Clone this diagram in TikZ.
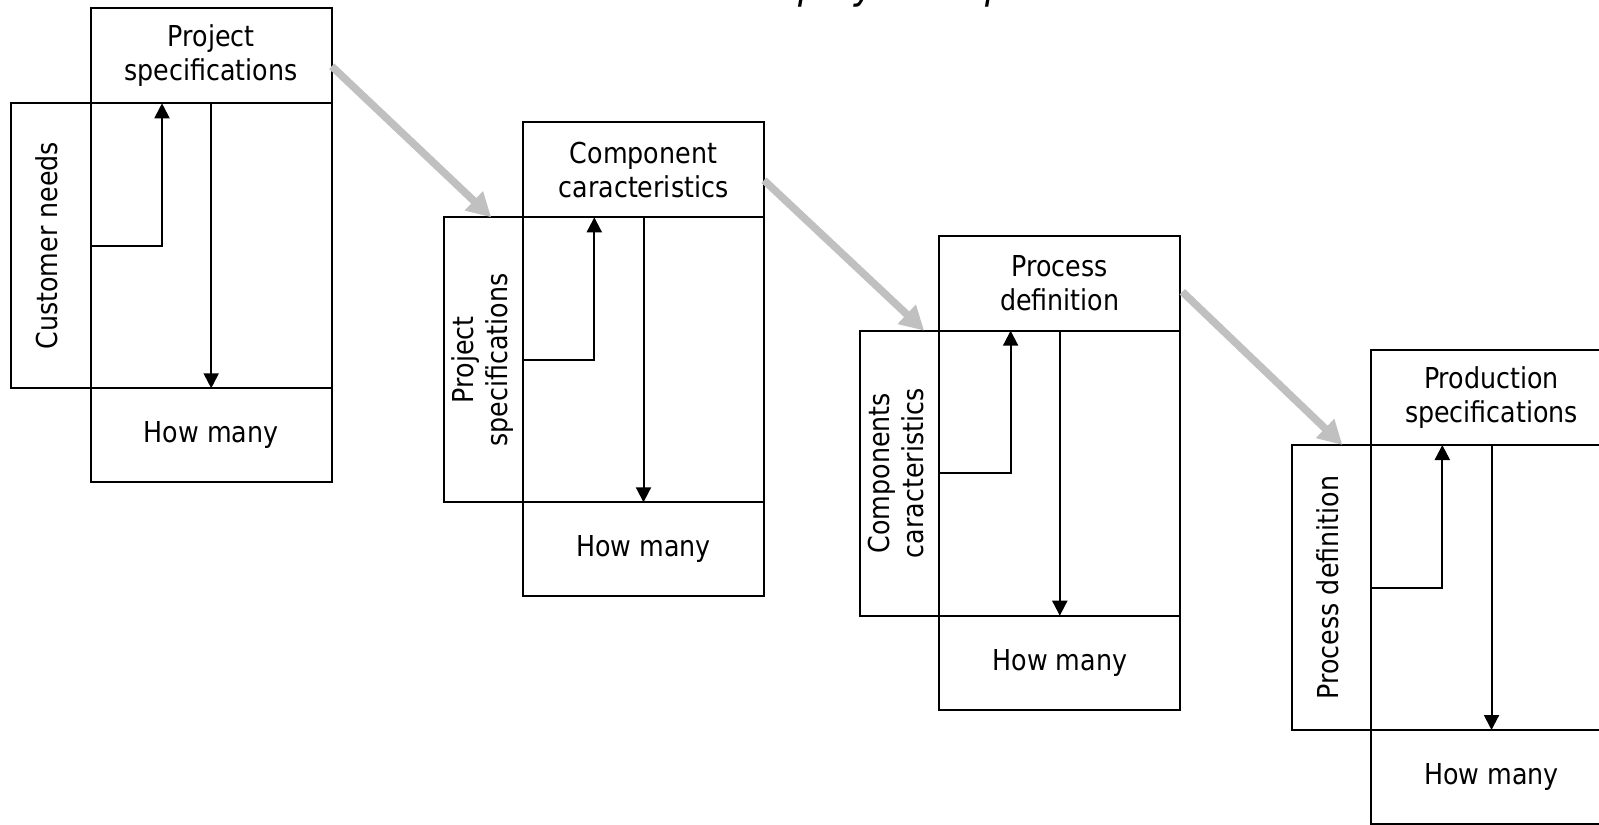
\documentclass[tikz,border=0pt]{standalone}
\usepackage{fontspec}
\setmainfont{DejaVu Sans}[FakeStretch=0.88]
\usepackage{graphicx}
\usetikzlibrary{arrows.meta,calc}

\definecolor{feedgray}{HTML}{C0C0C0}

\tikzset{
  x=0.5pt, y=-0.5pt,
  boxfont/.style={font=\fontsize{14.4pt}{17pt}\selectfont},
  headbox/.style={draw, line width=1pt, outer sep=0pt, inner sep=0pt,
    minimum width=120.5pt, minimum height=47.5pt, align=center,
    anchor=north west, boxfont},
  bodybox/.style={draw, line width=1pt, outer sep=0pt, inner sep=0pt,
    minimum width=120.5pt, minimum height=142.5pt, anchor=north west},
  sidebox/.style={draw, line width=1pt, outer sep=0pt, inner sep=0pt,
    minimum width=39.75pt, minimum height=142.5pt, anchor=north east,
    boxfont},
  flow/.style={line width=1pt, -{Triangle[length=7.5pt,width=7.5pt]}},
  feed/.style={draw=feedgray, line width=3.8pt,
    -{Triangle[length=12pt,width=12.5pt]}}
}

% One stage of the deployment matrix chain:
% #1 name, #2 x, #3 y, #4 header text, #5 side text
\newcommand\qfdstage[5]{%
  \node[headbox] (#1top) at (#2,#3) {#4};
  \node[bodybox] (#1main) at (#1top.south west) {};
  \node[sidebox] (#1side) at (#1main.north west)
    {\rotatebox{90}{\begin{tabular}{@{}c@{}}#5\end{tabular}}};
  \node[headbox, minimum height=47pt] (#1count) at (#1main.south west) {How many};
  \coordinate (#1knee) at ($(#1main.north west)+(71.3,0)$);
  \draw[flow] (#1main.west) -| (#1knee);
  \draw[flow] (#1main.north) -- (#1main.south);
}

\begin{document}
\begin{tikzpicture}
\useasboundingbox (0,0) rectangle (1599,824);
\clip (0,0) rectangle (1599,824);

% title line, mostly above the sheet
\node[anchor=base west, inner sep=0pt,
  font=\fontsize{21pt}{25pt}\selectfont\itshape] (title) at (752,-1.5)
  {deployment process};

\qfdstage{g1}{90.7}{8.3}{Project\\specifications}{Customer needs}
\qfdstage{g2}{523}{122.3}{Component\\caracteristics}{Project\\specifications}
\qfdstage{g3}{939.3}{235.7}{Process\\definition}{Components\\caracteristics}
\qfdstage{g4}{1371}{350}{Production\\specifications}{Process definition}

% hand-over arrows between stages
\draw[feed] ($(g1top.north east)!0.61!(g1top.south east)$)
  -- ($(g2side.north west)!0.6!(g2side.north east)$);
\draw[feed] ($(g2top.north east)!0.61!(g2top.south east)$)
  -- ($(g3side.north west)!0.81!(g3side.north east)$);
\draw[feed] ($(g3top.north east)!0.59!(g3top.south east)+(2,0)$)
  -- ($(g4side.north west)!0.64!(g4side.north east)$);
\end{tikzpicture}
\end{document}
